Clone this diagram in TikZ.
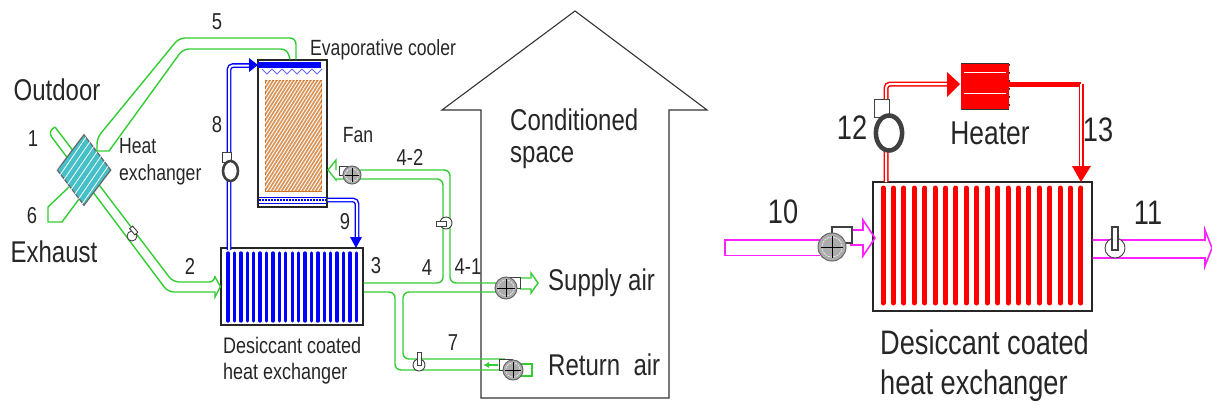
\documentclass[tikz,border=0pt]{standalone}
\usepackage{fontspec}
\setmainfont{Liberation Sans}[FakeStretch=0.8]
\usetikzlibrary{arrows.meta,positioning,shapes.geometric}
\definecolor{ductgreen}{HTML}{33CC33}
\definecolor{padorange}{HTML}{D2701E}
\definecolor{padfill}{HTML}{DC9458}
\definecolor{hxteal}{HTML}{45BFC8}
\definecolor{ductpink}{HTML}{FF22FF}
\newcommand{\fanicon}[3]{%
\fill[gray!65,draw=black!60,line width=1pt] (#1,#2) circle (#3);
\draw[white,line width=.5pt,dash pattern=on 2pt off 1pt] (#1,#2) circle ({#3*.72});
\draw[black,line width=.9pt] ({#1-#3*.8},#2)--({#1+#3*.8},#2) (#1,{#2-#3*.8})--(#1,{#2+#3*.8});}
\newcommand{\pumpicon}[3]{%
\begin{scope}[shift={(#1,#2)},scale=#3]
\draw[black!75,line width=.9pt,fill=white] (-8.5,-19)rectangle(.5,-9);
\draw[black!75,line width=2.6pt*#3,fill=white] (0,0) ellipse (7.5 and 10);
\end{scope}}
\begin{document}
\begin{tikzpicture}[x=1pt,y=-1pt,
lab/.style={text=black!85,inner sep=0pt,font=\fontsize{#1}{#1}\selectfont},
lab/.default=30,
box/.style={draw=black!85,line width=1.2pt,fill=white,inner sep=0pt},
gduct/.style={draw=ductgreen,line width=1.4pt,rounded corners=6pt},
pduct/.style={draw=ductpink,line width=1.6pt},
bduct/.style={draw=blue,line width=1.4pt,double=white,double distance=2pt,rounded corners=4pt},
rduct/.style={draw=red,line width=1.5pt,double=white,double distance=2pt,rounded corners=4pt},
damper/.style={draw=black!75,line width=.9pt,fill=white}]
\useasboundingbox (0,0) rectangle (1212,405);
\draw[black!80,line width=1.1pt] (481,398)--(481,110)--(442,110)--(575,11)--(707,110)--(669,110)--(669,398)--cycle;

% left unit
\node[box,minimum width=142pt,minimum height=77pt] (dehum) at (292,286.5) {};
\node[box,minimum width=69pt,minimum height=147pt] (cooler) at (292.5,133.5) {};
\foreach \i in {0,...,20}
\draw[blue,line width=3.4pt,line cap=round] ({228+6.42*\i},253)--({228+6.42*\i},321);
\node[draw=padorange,line width=1pt,fill=padfill,minimum width=56pt,minimum height=111pt,inner sep=0pt] (pad) at (293,135.5) {};
\begin{scope}
\clip (pad.south west) rectangle (pad.north east);
\foreach \i in {0,...,50}
\draw[white,line width=.9pt] ({195+3.4*\i},191)--({195+3.4*\i+70},80);
\end{scope}
\fill[blue] (258,62) rectangle (321,68);
\foreach \i in {0,...,5}
\draw[blue!60,line width=.9pt] ({262+10*\i},69)--({267+10*\i},74)--({272+10*\i},69);
\draw[blue,line width=1pt] (259,197)--(326,197) (259,203)--(326,203);
\draw[blue,line width=2pt,dash pattern=on 1.5pt off 1.5pt] (259,200)--(326,200);

% air ducts
\draw[gduct] (55,127)--(173,282)--(215,282)[sharp corners]--(215,277)--(dehum.west)--(215,297)--(215,292)[rounded corners=6pt]--(168,292)--(48,132)[sharp corners]--(55,127);
\draw[gduct,sharp corners] (69,187)--(48,207)--(48,222)--(62,222)--(79,199);
\node[diamond,aspect=.76,draw=black!60,line width=1.2pt,fill=hxteal,minimum width=54pt,minimum height=71pt,inner sep=0pt] (hx) at (84,170) {};
\begin{scope}
\clip (hx.north)--(hx.east)--(hx.south)--(hx.west)--cycle;
\foreach \i in {0,...,13}
\draw[white,line width=.8pt] ({15+7*\i},210)--({15+7*\i+55},130);
\end{scope}
\draw[gduct] ([xshift=3.5pt]cooler.north)--(296,38)--(179,38)--(97,138)[sharp corners]--(97,151)--(109,151)[rounded corners=6pt]--(183,49)--(287,49)--([xshift=-2.5pt]cooler.north);
\draw[gduct] (360,170)--(450,170)--(450,283)--(505,283);
\draw[gduct] (360,179)--(443,179)--(443,283)--([yshift=3.5pt]dehum.east);
\draw[gduct] ([yshift=-5.5pt]dehum.east)--(395,292)--(395,370)--(505,370);
\draw[gduct] (505,292)--(403,292)--(403,359)--(505,359);
\draw[gduct,sharp corners] (336,170)--(336,160)--(328,170)--(336,180)--(336,179)--(345,179);
\draw[gduct,sharp corners] (520,278)--(531,278)--(531,273)--(538,283)--(531,293)--(531,289)--(520,289);
\draw[gduct,-{Latex[length=6pt,width=6pt]},sharp corners] (498,365)--(483,365);
\draw[gduct,sharp corners] (520,364)--(532,364)--(532,376)--(520,376);

% water loops
\draw[bduct] (229,250)--(229,65.5)--(249,65.5);
\fill[blue] (258,65) -- (249,58)--(249,72)--cycle;
\draw[bduct] (cooler.east|-0,200)--(357,200)--(357,238);
\fill[blue] (356,248)--(350,237)--(362,237)--cycle;

% fans and dampers
\draw[damper] (339,166) rectangle (350,175);
\fanicon{352}{175}{9}
\draw[damper] (506,277) rectangle (520,288);
\fanicon{506}{288}{11}
\draw[damper] (499,359) rectangle (512,370);
\fanicon{513}{370}{10}
\pumpicon{230.5}{171}{1}
\draw[damper] (446,223) circle (6);
\draw[damper] (436,221) rectangle (446,226);
\draw[damper] (419,365) circle (6);
\draw[damper] (417,352) rectangle (421,365);
\draw[damper] (132,236) circle (5);
\draw[damper,rotate around={40:(135,232)}] (133,226) rectangle (137,234);

% right unit
\node[box,minimum width=219pt,minimum height=129pt] (regen) at (982.5,246.5) {};
\foreach \i in {0,...,19}
\draw[red,line width=5pt,line cap=round] ({883+10.42*\i},188)--({883+10.42*\i},303);
\node[draw=none,fill=red,minimum width=48pt,minimum height=45pt,inner sep=0pt] (heater) at (985,86.5) {};
\draw[white,line width=1pt] (964,72)--(1006,72) (964,93)--(1006,93);
\draw[black!80,line width=1pt] (heater.north west)--(heater.north east) (heater.south west)--(heater.south east);
\draw[black!80,line width=1pt,dash pattern=on 2pt off 6pt] (heater.north east)--(heater.south east);
\draw[rduct] (886,182)--(886,84)--(947,84);
\fill[red] (960,84)--(947,72)--(947,97)--cycle;
\draw[red,line width=5pt] (heater.east|-0,84)--(1081,84);
\draw[rduct] (1081,84)--(1081,167);
\fill[red] (1081,182)--(1072,166)--(1091,166)--cycle;
\pumpicon{889}{133}{1.75}
\draw[pduct] (820,255.5)--(725,255.5)--(725,240)--(820,240);
\draw[pduct] (850,230)--(863,230)--(863,220)--(875,238)--(863,256)--(863,245)--(850,245);
\draw[damper,line width=1.4pt] (832,227) rectangle (852,243);
\fanicon{832}{247}{14}
\draw[pduct] (regen.east|-0,240)--(1205,240)--(1205,230)--(1212,248)--(1205,266)--(1205,258)--(regen.east|-0,258);
\draw[damper] (1115,248) circle (10);
\draw[damper,line width=1.2pt] (1112,227) rectangle (1118,250);

% labels
\node[lab] (outdoor) at (57,90) {Outdoor};
\node[lab] (exhaust) at (54,252) {Exhaust};
\node[lab=23] (n1) at (33,139) {1};
\node[lab=23] (n6) at (32,216) {6};
\node[lab=23] (n5) at (217,22) {5};
\node[lab=23] (n8) at (217,125) {8};
\node[lab=23] (n2) at (190,266) {2};
\node[lab=23] (n3) at (376,266) {3};
\node[lab=23] (n4) at (427,268) {4};
\node[lab=23] (n9) at (345,222) {9};
\node[lab=23] (n7) at (453,343) {7};
\node[lab=23] (n41) at (468,267) {4-1};
\node[lab=23] (n42) at (410,157) {4-2};
\node[lab=22,anchor=west] (hxa) at (119,146) {Heat};
\node[lab=22,anchor=west] (hxb) at (119,175) {exchanger};
\node[lab=22] (fan) at (358,135) {Fan};
\node[lab=22,anchor=west] (evap) at (310,50) {Evaporative cooler};
\node[lab,anchor=west] (cond) at (510,120) {Conditioned};
\node[lab,anchor=west] (spc) at (510,158) {space};
\node[lab,anchor=west] (sup) at (548,283) {Supply air};
\node[lab,anchor=west] (ret) at (548,365) {Return\ \ air};
\node[lab=22.5,anchor=west] (desa) at (223,345) {Desiccant coated};
\node[lab=22.5,anchor=west] (desb) at (223,374) {heat exchanger};
\node[lab=34,anchor=west] (desc) at (880,342) {Desiccant coated};
\node[lab=34,anchor=west] (desd) at (880,386) {heat exchanger};
\node[lab=33] (heatr) at (990,133) {Heater};
\node[lab=34] (n12) at (852,128) {12};
\node[lab=34] (n13) at (1098,130) {13};
\node[lab=34] (n10) at (783,212) {10};
\node[lab=34] (n11) at (1148,213) {11};
\end{tikzpicture}
\end{document}
